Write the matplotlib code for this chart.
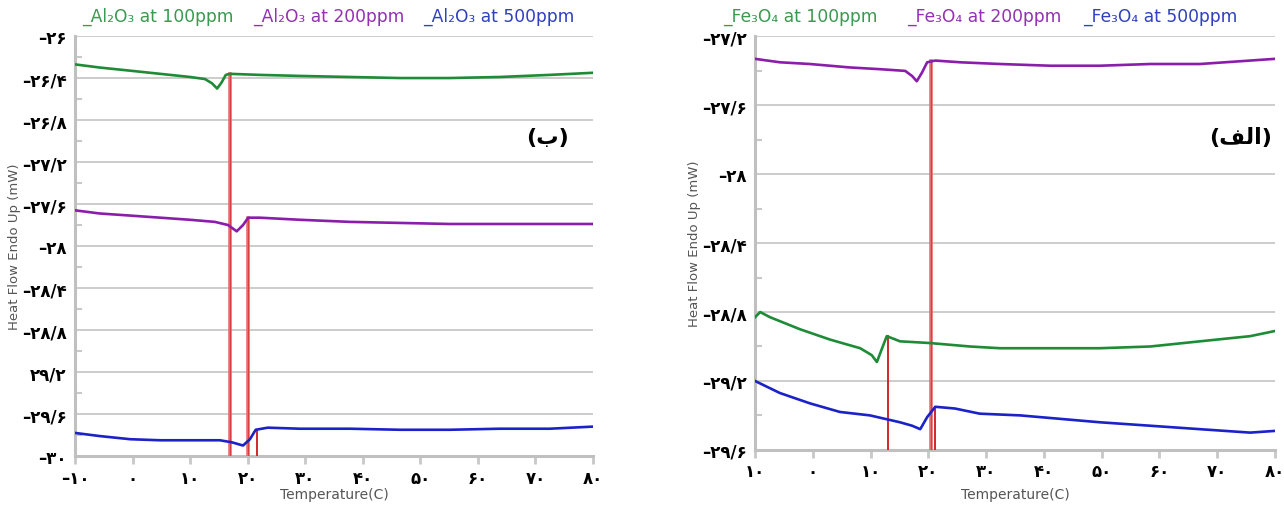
import matplotlib
matplotlib.use("Agg")
import matplotlib.pyplot as plt
import numpy as np

# ---- data ----
temp_ticks = [-10, 0, 10, 20, 30, 40, 50, 60, 70, 80]
al_xlabels = ["–۱۰", "۰", "۱۰", "۲۰", "۳۰", "۴۰", "۵۰", "۶۰", "۷۰", "۸۰"]
fe_xlabels = ["۱۰", "۰", "۱۰", "۲۰", "۳۰", "۴۰", "۵۰", "۶۰", "۷۰", "۸۰"]

al_yticks = [-26, -26.4, -26.8, -27.2, -27.6, -28, -28.4, -28.8, -29.2, -29.6, -30]
al_ylabels = ["–۲۶", "–۲۶/۴", "–۲۶/۸", "–۲۷/۲", "–۲۷/۶", "–۲۸", "–۲۸/۴",
              "–۲۸/۸", "۲۹/۲", "–۲۹/۶", "–۳۰"]
fe_yticks = [-27.2, -27.6, -28, -28.4, -28.8, -29.2, -29.6]
fe_ylabels = ["–۲۷/۲", "–۲۷/۶", "–۲۸", "–۲۸/۴", "–۲۸/۸", "–۲۹/۲", "–۲۹/۶"]

al100_x = [-10, -5.7, -0.4, 4.8, 10.0, 12.6, 13.8, 14.7, 15.5, 16.2, 16.9, 22.1,
           29.1, 37.8, 46.5, 55.1, 63.8, 72.5, 80]
al100_y = [-26.27, -26.30, -26.33, -26.36, -26.39, -26.41, -26.45, -26.50, -26.44,
           -26.37, -26.36, -26.37, -26.38, -26.39, -26.40, -26.40, -26.39, -26.37, -26.35]
al200_x = [-10, -5.7, -0.4, 4.8, 10.0, 14.3, 16.6, 18.1, 19.2, 20.1, 22.1, 29.1,
           37.8, 46.5, 55.1, 63.8, 80]
al200_y = [-27.66, -27.69, -27.71, -27.73, -27.75, -27.77, -27.80, -27.86, -27.80,
           -27.73, -27.73, -27.75, -27.77, -27.78, -27.79, -27.79, -27.79]
al500_x = [-10, -5.7, -0.4, 4.8, 10.0, 15.2, 17.3, 19.2, 20.4, 21.4, 23.5, 29.1,
           37.8, 46.5, 55.1, 63.8, 72.5, 80]
al500_y = [-29.78, -29.81, -29.84, -29.85, -29.85, -29.85, -29.87, -29.90, -29.84,
           -29.75, -29.73, -29.74, -29.74, -29.75, -29.75, -29.74, -29.74, -29.72]

fe200_x = [-10, -5.7, -0.5, 6.4, 11.6, 16.0, 17.2, 18.0, 18.9, 19.8, 21.2, 25.5,
           32.4, 41.1, 49.7, 58.4, 67.0, 75.7, 80]
fe200_y = [-27.33, -27.35, -27.36, -27.38, -27.39, -27.40, -27.43, -27.46, -27.41,
           -27.35, -27.34, -27.35, -27.36, -27.37, -27.37, -27.36, -27.36, -27.34, -27.33]
fe100_x = [-10, -9.1, -7.4, -2.2, 3.0, 8.2, 10.2, 11.1, 12.0, 12.8, 15.1, 20.3,
           27.2, 32.4, 41.1, 49.7, 58.4, 67.0, 75.7, 80]
fe100_y = [-28.83, -28.80, -28.83, -28.90, -28.96, -29.01, -29.05, -29.09, -29.01,
           -28.94, -28.97, -28.98, -29.00, -29.01, -29.01, -29.01, -29.00, -28.97,
           -28.94, -28.91]
fe500_x = [-10, -5.7, -0.5, 4.7, 9.9, 15.1, 17.2, 18.6, 19.8, 21.2, 24.6, 28.9,
           35.9, 42.8, 49.7, 58.4, 67.0, 75.7, 80]
fe500_y = [-29.20, -29.27, -29.33, -29.38, -29.40, -29.44, -29.46, -29.48, -29.41,
           -29.35, -29.36, -29.39, -29.40, -29.42, -29.44, -29.46, -29.48, -29.50, -29.49]

# onset markers: (temperature, top of line, dark?)
al_marks = [(16.9, -26.36, False), (20.1, -27.73, False), (21.6, -29.75, True)]
fe_marks = [(13.0, -28.94, True), (20.4, -27.34, False), (21.2, -29.35, True)]

al_leg = ["_Al₂O₃ at 100ppm", "_Al₂O₃ at 200ppm", "_Al₂O₃ at 500ppm"]
fe_leg = ["_Fe₃O₄ at 100ppm", "_Fe₃O₄ at 200ppm", "_Fe₃O₄ at 500ppm"]

GREEN, PURPLE, BLUE = "#1e8c36", "#8a1eaa", "#1a22c8"
LEG_COLORS = ["#3a9a50", "#9530b5", "#3040c0"]
GRID = "#c8c8c8"
FONT = "DejaVu Sans"


def style_axes(ax, ylim, yticks, ylabels, xlabels, xlab_y):
    ax.set_xlim(-10, 80)
    ax.set_ylim(*ylim)
    ax.set_xticks(temp_ticks)
    ax.set_xticklabels(xlabels, fontsize=12, fontweight="bold", family=FONT)
    ax.set_yticks(yticks)
    ax.set_yticklabels(ylabels, fontsize=12, fontweight="bold", family=FONT)
    ax.set_yticks(np.array(yticks[:-1]) - 0.2, minor=True)
    ax.tick_params(axis="y", which="major", length=0, pad=6)
    ax.tick_params(axis="y", which="minor", direction="in", length=5,
                   width=1.5, color=GRID)
    ax.tick_params(axis="x", which="major", direction="out", length=6,
                   width=2, color=GRID, pad=3)
    ax.grid(axis="y", color=GRID, lw=1.3)
    ax.set_axisbelow(True)
    for s in ("top", "right"):
        ax.spines[s].set_visible(False)
    for s in ("left", "bottom"):
        ax.spines[s].set_color("#c0c0c0")
        ax.spines[s].set_linewidth(2.2)
    ax.set_xlabel("Temperature(C)", fontsize=10, color="#555555", family=FONT)
    ax.xaxis.set_label_coords(0.5, xlab_y)
    ax.set_ylabel("Heat Flow Endo Up (mW)", fontsize=9.5, color="#555555",
                  family=FONT)
    ax.yaxis.set_label_coords(-0.104, 0.5)


def draw_marks(ax, marks, ybottom):
    for x, ytop, dark in marks:
        if dark:
            ax.plot([x, x], [ybottom, ytop], color="#d02828", lw=1.4, zorder=3)
        else:
            ax.plot([x, x], [ybottom, ytop], color="#e87070", lw=2.6, zorder=3)
            ax.plot([x, x], [ybottom, ytop], color="#d84040", lw=0.8, zorder=3)


fig = plt.figure(figsize=(12.84, 5.06), dpi=100)
ax1 = fig.add_axes([0.0584, 0.0968, 0.4034, 0.830])
ax2 = fig.add_axes([0.588, 0.109, 0.405, 0.817])

style_axes(ax1, (-30, -26), al_yticks, al_ylabels, al_xlabels, -0.074)
draw_marks(ax1, al_marks, -30)
ax1.plot(al100_x, al100_y, color=GREEN, lw=1.9, zorder=4)
ax1.plot(al200_x, al200_y, color=PURPLE, lw=1.9, zorder=4)
ax1.plot(al500_x, al500_y, color=BLUE, lw=1.9, zorder=4)
ax1.text(0.913, 0.76, "(ب)", transform=ax1.transAxes, fontsize=16,
         fontweight="bold", family=FONT, ha="center", va="center")

style_axes(ax2, (-29.6, -27.2), fe_yticks, fe_ylabels, fe_xlabels, -0.089)
draw_marks(ax2, fe_marks, -29.6)
ax2.plot(fe100_x, fe100_y, color=GREEN, lw=1.9, zorder=4)
ax2.plot(fe200_x, fe200_y, color=PURPLE, lw=1.9, zorder=4)
ax2.plot(fe500_x, fe500_y, color=BLUE, lw=1.9, zorder=4)
# visual order of "الف" with presentation forms (no bidi shaping in matplotlib)
ax2.text(0.933, 0.757, "(\ufed2\ufedf\ufe8d)", transform=ax2.transAxes,
         fontsize=16, fontweight="bold", family=FONT,
         ha="center", va="center")

# legends as coloured text rows
al_leg_px = [82, 253, 423]
fe_leg_px = [723, 907, 1083]
for labels, xs in ((al_leg, al_leg_px), (fe_leg, fe_leg_px)):
    for lab, px, c in zip(labels, xs, LEG_COLORS):
        fig.text(px / 1284, 1 - 17 / 506, lab, color=c, fontsize=12.3,
                 family=FONT, ha="left", va="center")

fig.savefig("out.png", dpi=100)
